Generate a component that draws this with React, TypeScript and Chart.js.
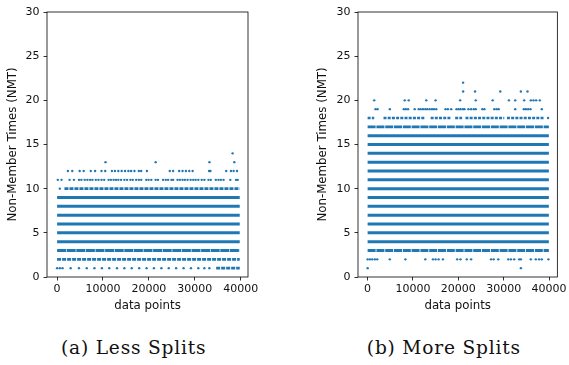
import React, { useEffect, useRef } from "react";
import { Chart, registerables } from "chart.js";
Chart.register(...registerables);

const xTicks = [0, 10000, 20000, 30000, 40000];
const yTicks = [0, 5, 10, 15, 20, 25, 30];
const captions = ["(a) Less Splits", "(b) More Splits"];
const yTitle = "Non-Member Times (NMT)";
const xTitle = "data points";

// ---------- (a) Less Splits ----------
// near-continuous rows: [value, first index, last index]
const lessSolid = [[4, 0, 39800], [5, 0, 39800], [6, 0, 39800], [7, 0, 39800], [8, 0, 39800], [9, 0, 39800]];
const lessDense = [[3, 0, 39800]];
const lessDotted = [[2, 0, 39800], [10, 1600, 39800], [1, 34660, 39800]];
// isolated points per value (x = data point index)
const lessY1 = [0, 593, 1180, 2945, 4770, 6460, 8136, 9760, 11364, 13055, 14660, 16265, 17890, 19496, 21100, 22730, 24330, 25936, 27560, 29167, 30772, 32090, 33190];
const lessY10 = [594];
const lessY11 = [154, 960, 2719, 3671, 4770, 5283, 6016, 6602, 7188, 7701, 8434, 9020, 9679, 10265, 11218, 11731, 12317, 12830, 13343, 13929, 14662, 15248, 15981, 16494, 17226, 17813, 18325, 19424, 19937, 20523, 21476, 21989, 23088, 23674, 24187, 24920, 25286, 26238, 26751, 27337, 27850, 28437, 29096, 29682, 30195, 30781, 31514, 32100, 32979, 33492, 34591, 35177, 35690, 36276, 37742, 38987, 39354];
const lessY12 = [2350, 3305, 4916, 5795, 7334, 8286, 9678, 10484, 11949, 12608, 13340, 14073, 14806, 15539, 16125, 16857, 17810, 18323, 19569, 24551, 25284, 26602, 27335, 28067, 28800, 29533, 33122, 33416, 36859, 37885, 38471, 39204];
const lessY13 = [10550, 21475, 33200, 38620];
const lessY14 = [38250];

// ---------- (b) More Splits ----------
const moreSolid = [[4, 0, 39950], [5, 0, 39950], [6, 0, 39950], [7, 0, 39950], [8, 0, 39950], [9, 0, 39950], [10, 0, 39950], [11, 0, 39950], [12, 0, 39950], [13, 0, 39950], [14, 0, 39950], [15, 0, 39950], [16, 0, 39950]];
const moreDense = [[3, 0, 39950], [17, 0, 39950]];
const moreDotted = [[18, 0, 1455], [18, 3503, 12718], [18, 13887, 18422], [18, 19299, 20835], [18, 21566, 30123], [18, 30708, 38898]];
const moreY1 = [0, 33779];
const moreY2 = [0, 505, 1017, 1602, 2114, 4893, 8330, 12718, 14400, 14985, 15643, 16594, 19738, 20469, 21859, 22810, 27197, 27782, 28806, 31000, 31585, 32317, 33414, 33779, 35973, 37070, 37801, 38386, 39849];
const moreY18 = [39776];
const moreY19 = [1748, 2187, 4893, 7965, 8403, 8915, 10377, 11255, 11694, 12206, 12718, 13156, 13668, 14180, 14619, 15131, 17178, 17690, 18422, 19592, 20030, 20469, 20981, 21347, 22224, 22810, 23395, 23833, 25296, 25735, 27929, 28441, 28880, 32536, 34437, 34876, 35388, 35900, 38386];
const moreY20 = [1456, 8183, 9061, 12937, 14985, 20396, 23833, 27563, 31147, 32536, 34510, 35973, 36558, 37143, 37948];
const moreY21 = [21054, 23687, 29245, 33779, 35242];
const moreY22 = [21054];

const BLUE = "#1f77b4";
const FONT = "DejaVu Sans";

function bands(rows: number[][], dash: number[], width: number) {
  return rows.map((r) => ({
    data: [{ x: r[1], y: r[0] }, { x: r[2], y: r[0] }],
    showLine: true,
    borderColor: BLUE,
    backgroundColor: BLUE,
    borderWidth: width,
    borderDash: dash,
    borderCapStyle: "butt" as const,
    pointRadius: 0,
    pointHoverRadius: 0,
  }));
}

function points(groups: [number, number[]][]) {
  const data: { x: number; y: number }[] = [];
  groups.forEach(([y, xs]) => xs.forEach((x) => data.push({ x, y })));
  return {
    data,
    showLine: false,
    backgroundColor: BLUE,
    borderColor: BLUE,
    borderWidth: 0,
    pointRadius: 1.2,
    pointHoverRadius: 1.2,
  };
}

const framePlugin = {
  id: "frame",
  afterDraw(chart: any) {
    const { ctx, chartArea: a } = chart;
    ctx.save();
    ctx.strokeStyle = "#000";
    ctx.lineWidth = 0.8;
    ctx.strokeRect(a.left, a.top, a.right - a.left, a.bottom - a.top);
    ctx.restore();
  },
};

type PanelProps = {
  left: number;
  width: number;
  yAxisWidth: number;
  rightPad: number;
  xMin: number;
  xMax: number;
  yTitlePad: number;
  datasets: any[];
};

function Panel(p: PanelProps) {
  const ref = useRef<HTMLCanvasElement>(null);
  useEffect(() => {
    const tickFont = { family: FONT, size: 11 };
    const titleFont = { family: FONT, size: 11.8 };
    const grid = {
      display: true,
      drawOnChartArea: false,
      drawTicks: true,
      tickLength: 3.5,
      color: "#000",
      lineWidth: 0.8,
    };
    const chart = new Chart(ref.current!, {
      type: "scatter",
      data: { datasets: p.datasets },
      plugins: [framePlugin],
      options: {
        animation: false,
        responsive: false,
        devicePixelRatio: 1,
        events: [],
        layout: { padding: { top: 12, right: p.rightPad, left: 0, bottom: 0 } },
        plugins: { legend: { display: false }, tooltip: { enabled: false } },
        scales: {
          x: {
            type: "linear",
            min: p.xMin,
            max: p.xMax,
            afterBuildTicks: (s: any) => {
              s.ticks = xTicks.map((v) => ({ value: v }));
            },
            afterFit: (s: any) => {
              s.height = 43;
            },
            ticks: {
              font: tickFont,
              color: "#111",
              padding: 2,
              maxRotation: 0,
              autoSkip: false,
              callback: (v: any) => String(v),
            },
            grid,
            border: { display: false },
            title: { display: true, text: xTitle, font: titleFont, color: "#111", padding: { top: 0, bottom: 7 } },
          },
          y: {
            type: "linear",
            min: 0,
            max: 30,
            afterBuildTicks: (s: any) => {
              s.ticks = yTicks.map((v) => ({ value: v }));
            },
            afterFit: (s: any) => {
              s.width = p.yAxisWidth;
            },
            ticks: {
              font: tickFont,
              color: "#111",
              padding: 4,
              autoSkip: false,
              callback: (v: any) => String(v),
            },
            grid,
            border: { display: false },
            title: { display: true, text: yTitle, font: titleFont, color: "#111", padding: { top: p.yTitlePad, bottom: 0 } },
          },
        },
      } as any,
    });
    return () => chart.destroy();
  }, []);
  return (
    <canvas
      ref={ref}
      width={p.width}
      height={320}
      style={{ position: "absolute", left: p.left, top: 0, width: p.width, height: 320 }}
    />
  );
}

const lessDatasets = [
  ...bands(lessSolid, [], 3),
  ...bands(lessDense, [9, 0.6], 3),
  ...bands(lessDotted, [4, 1], 2.6),
  points([[1, lessY1], [10, lessY10], [11, lessY11], [12, lessY12], [13, lessY13], [14, lessY14]]),
];

const moreDatasets = [
  ...bands(moreSolid, [], 3),
  ...bands(moreDense, [8, 0.8], 2.8),
  ...bands(moreDotted, [3, 1.2], 2.4),
  points([[1, moreY1], [2, moreY2], [18, moreY18], [19, moreY19], [20, moreY20], [21, moreY21], [22, moreY22]]),
];

const captionStyle = (center: number): React.CSSProperties => ({
  position: "absolute",
  left: center - 150,
  width: 300,
  top: 338.6,
  textAlign: "center",
  fontFamily: "'DejaVu Serif'",
  fontSize: "18.6px",
  lineHeight: "18.6px",
  letterSpacing: "0.8px",
  color: "#111",
  whiteSpace: "nowrap",
});

export default function App() {
  return (
    <div style={{ position: "absolute", left: 0, top: 0, width: 569, height: 365, background: "#fff", overflow: "hidden" }}>
      <Panel left={0} width={285} yAxisWidth={47} rightPad={37} xMin={-2200} xMax={41600} yTitlePad={5.7} datasets={lessDatasets} />
      <Panel left={285} width={284} yAxisWidth={73} rightPad={10} xMin={-2120} xMax={41820} yTitlePad={30.7} datasets={moreDatasets} />
      <div style={captionStyle(133.7)}>{captions[0]}</div>
      <div style={captionStyle(443.8)}>{captions[1]}</div>
    </div>
  );
}
